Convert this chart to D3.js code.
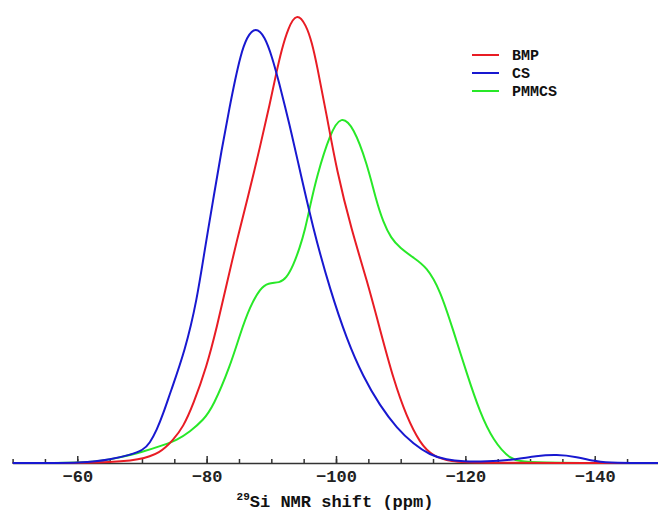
<!DOCTYPE html>
<html>
<head>
<meta charset="utf-8">
<script src="https://cdn.jsdelivr.net/npm/d3@7"></script>
<style>
  body { margin: 0; background: #fff; }
  #chart { width: 658px; height: 511px; }
  .axis text { font-family: "Liberation Mono", "Courier New", monospace; font-weight: bold; font-size: 17px; fill: #222; }
  .axis path, .axis line { stroke: #333; stroke-width: 1.5; }
  .legend-text { font-family: "Liberation Mono", "Courier New", monospace; font-weight: bold; font-size: 15px; fill: #111; }
  .label { font-family: "Liberation Mono", "Courier New", monospace; font-weight: bold; font-size: 17px; fill: #111; }
  .curve { fill: none; stroke-width: 2; }
</style>
</head>
<body>
<div id="chart"></div>
<script>
var width = 658;
var height = 511;

// chemical shift (ppm) and intensity
var csShift = [-50, -61.5, -65.1, -68.2, -70.2, -71.2, -72.3, -73.3, -74.3, -76.7, -78.5, -79.7, -81.0, -82.3, -83.6, -84.4, -85.2, -86.2, -87.6, -89.0, -90.1, -91.1, -92.9, -93.9, -96.5, -99.1, -101.7, -104.2, -106.8, -109.4, -112.0, -114.5, -117.1, -119.6, -123.3, -127.4, -131.0, -134.1, -137.2, -140.3, -142.8, -150];
var csValue = [0, 0, 0.8, 1.8, 2.9, 4.4, 7.4, 11.1, 15.4, 25.3, 36.5, 47.7, 58.8, 70.0, 80.0, 85.7, 90.9, 95.4, 97.6, 95.4, 90.9, 85.7, 75.2, 68.8, 52.1, 38.7, 27.5, 19.3, 12.8, 7.8, 4.2, 1.8, 0.7, 0.3, 0.3, 0.7, 1.6, 1.9, 1.4, 0.3, 0, 0];

var bmpShift = [-50, -64.5, -69.7, -72.8, -74.8, -76.4, -77.9, -80.0, -81.6, -83.1, -84.7, -86.4, -88.3, -89.8, -90.8, -91.6, -92.6, -93.9, -95.4, -96.3, -97.0, -98.6, -100.1, -102.4, -104.8, -106.8, -108.9, -110.9, -113.0, -115.0, -118.1, -120.2, -150];
var bmpValue = [0, 0, 0.7, 2.2, 5.1, 8.1, 13.0, 21.5, 30.5, 40.0, 50.0, 59.5, 71.0, 80.5, 87.5, 92.5, 97.3, 100.8, 98.0, 93.9, 89.4, 77.5, 65.5, 52.1, 40.8, 29.9, 18.6, 10.4, 4.4, 1.4, 0.3, 0, 0];

var pmmcsShift = [-50, -62.5, -66.1, -70.2, -73.3, -75.4, -77.4, -79.5, -81.0, -83.6, -85.2, -86.7, -88.3, -89.5, -91.3, -92.3, -93.4, -94.4, -95.2, -96.0, -97.0, -99.1, -100.8, -102.7, -104.8, -106.2, -107.3, -108.5, -109.9, -112.0, -114.0, -116.1, -118.1, -120.2, -122.3, -124.3, -126.9, -129.5, -150];
var pmmcsValue = [0, 0, 1.1, 2.5, 4.0, 5.1, 7.0, 9.6, 12.6, 21.5, 29.0, 35.0, 39.1, 40.3, 40.3, 41.3, 44.2, 48.2, 52.1, 57.5, 64.0, 73.8, 77.8, 75.2, 67.0, 58.8, 53.9, 50.3, 48.1, 45.9, 43.9, 38.7, 29.8, 20.1, 11.1, 5.1, 0.7, 0, 0];

var seriesNames = ["BMP", "CS", "PMMCS"];
var colours = {
  "BMP": "rgb(232,28,36)",
  "CS": "rgb(24,24,208)",
  "PMMCS": "rgb(40,232,40)"
};

var majorTicks = [-60, -80, -100, -120, -140];

function zip(xs, ys) {
  return xs.map(function(d, i) { return {shift: d, value: ys[i]}; });
}

var series = {
  "BMP": zip(bmpShift, bmpValue),
  "CS": zip(csShift, csValue),
  "PMMCS": zip(pmmcsShift, pmmcsValue)
};

var svg = d3.select("#chart")
            .append("svg")
              .attr("width", width)
              .attr("height", height);

// scales (ppm axis runs right to left)
var xScale = d3.scaleLinear()
                .domain([-50, -150])
                .range([12.6, 659.4]);

var yScale = d3.scaleLinear()
                .domain([0, 100])
                .range([463, 16]);

// minor ticks every 5 ppm
svg.append("g")
    .attr("class", "axis minor")
    .attr("transform", "translate(0,463)")
    .call(d3.axisBottom(xScale)
            .tickValues(d3.range(-50, -150, -5))
            .tickSizeInner(-4)
            .tickSizeOuter(0)
            .tickFormat(""));

// major ticks with labels
svg.append("g")
    .attr("class", "axis major")
    .attr("transform", "translate(0,463)")
    .call(d3.axisBottom(xScale)
            .tickValues(majorTicks)
            .tickSizeInner(-7)
            .tickSizeOuter(0)
            .tickPadding(7));

svg.selectAll(".minor .domain").remove();

// curves (b-spline smooths the hand-read points)
var line = d3.line()
              .x(function(d) { return xScale(d.shift); })
              .y(function(d) { return yScale(d.value); })
              .curve(d3.curveBasis);

["PMMCS", "BMP", "CS"].forEach(function(name) {
  svg.append("path")
      .attr("class", "curve")
      .attr("stroke", colours[name])
      .attr("d", line(series[name]));
});

// axis label
var label = svg.append("text")
                .attr("class", "label")
                .attr("x", 335)
                .attr("y", 507)
                .attr("text-anchor", "middle");
label.append("tspan")
      .attr("font-size", "11px")
      .attr("dy", "-7")
      .text("29");
label.append("tspan")
      .attr("dy", "7")
      .text("Si NMR shift (ppm)");

// legend
var legend = svg.append("g")
                  .attr("class", "legend")
                  .attr("transform", "translate(472,55)");

legend.selectAll(".legend-line")
        .data(seriesNames)
        .enter()
      .append("line")
        .attr("class", "legend-line")
        .attr("x1", 0)
        .attr("x2", 27)
        .attr("y1", function(d, i) { return 18 * i; })
        .attr("y2", function(d, i) { return 18 * i; })
        .attr("stroke", function(d) { return colours[d]; })
        .attr("stroke-width", 2);

legend.selectAll(".legend-text")
        .data(seriesNames)
        .enter()
      .append("text")
        .attr("class", "legend-text")
        .attr("x", 40)
        .attr("y", function(d, i) { return 18 * i + 5; })
        .text(function(d) { return d; });
</script>
</body>
</html>
